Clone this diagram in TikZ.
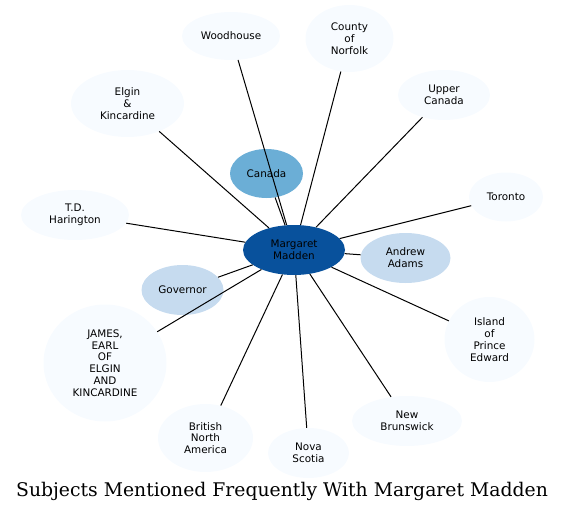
\documentclass[tikz,border=0pt]{standalone}
\usepackage{fontspec}
\setmainfont{DejaVu Serif}
\setsansfont{DejaVu Sans}
\usepackage{tikz}
\usetikzlibrary{shapes.geometric}
\definecolor{subjpale}{HTML}{F7FBFF}
\definecolor{subjlight}{HTML}{C6DBEF}
\definecolor{subjmid}{HTML}{6BAED6}
\definecolor{subjcore}{HTML}{08519C}
\tikzset{
  subj/.style={ellipse, fill=subjpale, draw=none, inner sep=0pt,
               align=center, font=\sffamily\fontsize{10.4}{11.8}\selectfont},
  subj light/.style={subj, fill=subjlight},
  subj mid/.style={subj, fill=subjmid},
  subj core/.style={subj, fill=subjcore},
  link/.style={draw=black, line width=1pt},
}

\begin{document}
\begin{tikzpicture}[x=1pt, y=-1pt]
\useasboundingbox (0,0) rectangle (564,513);
% centre
\node[subj core, minimum width=102, minimum height=50] (madden) at (294,250) {Margaret\\Madden};
% inner ring
\node[subj mid, minimum width=73, minimum height=49] (canada) at (266.5,173.5) {Canada};
\node[subj light, minimum width=90, minimum height=50] (adams) at (405.5,258) {Andrew\\Adams};
\node[subj light, minimum width=82, minimum height=50] (governor) at (182.5,290) {Governor};
% outer ring
\node[subj, minimum width=98, minimum height=48] (woodhouse) at (231,36) {Woodhouse};
\node[subj, minimum width=88, minimum height=67] (norfolk) at (349.5,38.5) {County\\of\\Norfolk};
\node[subj, minimum width=92, minimum height=50] (upper) at (444,95) {Upper\\Canada};
\node[subj, minimum width=113, minimum height=67] (elgin) at (127.5,103.5) {Elgin\\\&\\Kincardine};
\node[subj, minimum width=74, minimum height=49] (toronto) at (506,197) {Toronto};
\node[subj, minimum width=108, minimum height=50] (harington) at (75,215) {T.D.\\Harington};
\node[subj, minimum width=90, minimum height=85] (island) at (489.5,339.5) {Island\\of\\Prince\\Edward};
\node[subj, minimum width=123, minimum height=117] (james) at (105,363) {JAMES,\\EARL\\OF\\ELGIN\\AND\\KINCARDINE};
\node[subj, minimum width=95, minimum height=68] (bna) at (205.5,438) {British\\North\\America};
\node[subj, minimum width=81, minimum height=50] (nova) at (308.5,453) {Nova\\Scotia};
\node[subj, minimum width=110, minimum height=50] (brunswick) at (407,421) {New\\Brunswick};
% links
\foreach \n in {canada,adams,governor,woodhouse,norfolk,upper,elgin,
                toronto,harington,island,james,bna,nova,brunswick}
  \draw[link] (madden) -- (\n);
\node[font=\fontsize{18.8}{22}\selectfont] (title) at (282,491) {Subjects Mentioned Frequently With Margaret Madden};
\end{tikzpicture}
\end{document}
